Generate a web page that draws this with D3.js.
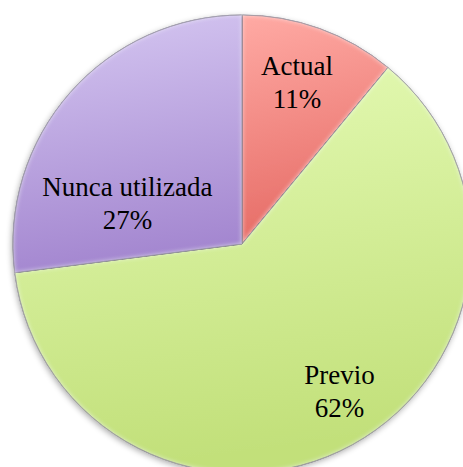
<!DOCTYPE html>
<html>
<head>
<meta charset="utf-8">
<script src="https://cdn.jsdelivr.net/npm/d3@7"></script>
<style>
  html, body { margin: 0; padding: 0; background: #fff; }
  svg { display: block; }
</style>
</head>
<body>
<div id="container"></div>
<script>
/* DATA */
const categories = ["Actual", "Previo", "Nunca utilizada"];
const values = [11, 62, 27];
const percentLabels = ["11%", "62%", "27%"];

/* CONSTANTS */
const width = 463;
const height = 467;
const cx = 242;
const cy = 244;
const radius = 229;

// light (top) / dark (bottom) colour for each slice
const lightColors = ["#ffaaa4", "#e4fab4", "#d6c8f2"];
const darkColors = ["#e66c66", "#c2e07a", "#a487d0"];

// label placement: angle (deg, clockwise from 12 o'clock) and distance from centre
const labelPlace = {
  "Actual": { angle: 19.7, r: 163 },
  "Previo": { angle: 148, r: 184 },
  "Nunca utilizada": { angle: 285.6, r: 119 }
};

const svg = d3.select("#container")
  .append("svg")
  .attr("width", width)
  .attr("height", height);

const defs = svg.append("defs");

categories.forEach((c, i) => {
  const g = defs.append("linearGradient")
    .attr("id", "grad" + i)
    .attr("x1", 0).attr("y1", 0)
    .attr("x2", 0.15).attr("y2", 1);
  g.append("stop").attr("offset", "0%").attr("stop-color", lightColors[i]);
  g.append("stop").attr("offset", "100%").attr("stop-color", darkColors[i]);
});

// soft shadow round the pie
const shadow = defs.append("filter")
  .attr("id", "shadow")
  .attr("x", "-10%").attr("y", "-10%")
  .attr("width", "120%").attr("height", "120%");
shadow.append("feGaussianBlur").attr("in", "SourceAlpha").attr("stdDeviation", 3);
shadow.append("feOffset").attr("dx", -1).attr("dy", 2).attr("result", "blur");
shadow.append("feComponentTransfer").append("feFuncA").attr("type", "linear").attr("slope", 0.35);
const merge = shadow.append("feMerge");
merge.append("feMergeNode");
merge.append("feMergeNode").attr("in", "SourceGraphic");

// bevel highlight (soft white inner edge)
const bevel = defs.append("filter").attr("id", "bevel");
bevel.append("feGaussianBlur").attr("in", "SourceAlpha").attr("stdDeviation", 2.5).attr("result", "b");
bevel.append("feComposite").attr("in", "SourceAlpha").attr("in2", "b")
  .attr("operator", "arithmetic").attr("k2", 1).attr("k3", -1).attr("result", "edge");
bevel.append("feFlood").attr("flood-color", "#ffffff").attr("flood-opacity", 0.6);
bevel.append("feComposite").attr("in2", "edge").attr("operator", "in").attr("result", "hl");
const bm = bevel.append("feMerge");
bm.append("feMergeNode").attr("in", "SourceGraphic");
bm.append("feMergeNode").attr("in", "hl");

/* PIE */
const pie = d3.pie().sort(null).value(d => d.value);
const data = categories.map((c, i) => ({ name: c, value: values[i], label: percentLabels[i], i }));
const arcs = pie(data);

const arc = d3.arc().innerRadius(0).outerRadius(radius);

const g = svg.append("g")
  .attr("transform", `translate(${cx},${cy})`);

g.append("g")
  .attr("filter", "url(#shadow)")
  .selectAll("path")
  .data(arcs)
  .join("path")
  .attr("d", arc)
  .attr("fill", d => `url(#grad${d.data.i})`);

g.append("g")
  .selectAll("path")
  .data(arcs)
  .join("path")
  .attr("d", arc)
  .attr("fill", d => `url(#grad${d.data.i})`)
  .attr("filter", "url(#bevel)")
  .attr("stroke", "#5f5a72")
  .attr("stroke-opacity", 0.8)
  .attr("stroke-width", 1);

/* LABELS */
const labels = g.append("g")
  .selectAll("text")
  .data(arcs)
  .join("text")
  .attr("transform", d => {
    const p = labelPlace[d.data.name];
    const a = p.angle * Math.PI / 180;
    return `translate(${p.r * Math.sin(a)},${-p.r * Math.cos(a)})`;
  })
  .attr("text-anchor", "middle")
  .style("font-family", "'Liberation Serif', 'DejaVu Serif', serif")
  .style("font-size", "27px")
  .attr("fill", "#000");

labels.append("tspan")
  .attr("x", 0)
  .attr("y", -16)
  .text(d => d.data.name);

labels.append("tspan")
  .attr("x", 0)
  .attr("y", 17)
  .text(d => d.data.label);
</script>
</body>
</html>
